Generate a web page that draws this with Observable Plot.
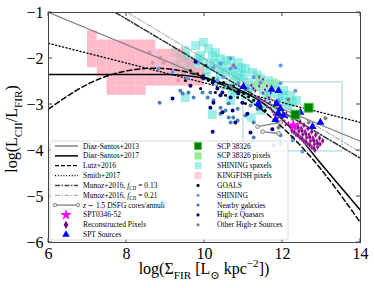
<!DOCTYPE html>
<html><head><meta charset="utf-8">
<script src="https://cdn.jsdelivr.net/npm/d3@7"></script>
<script src="https://cdn.jsdelivr.net/npm/@observablehq/plot@0.6"></script>
<style>
html,body{margin:0;padding:0;background:#fff;}
#chart{width:374px;height:288px;}
</style></head><body><div id="chart"></div>
<script>
// ---------- axes ----------
const xTicks = [6, 8, 10, 12, 14];
const yTicks = [-6, -5, -4, -3, -2, -1];

// ---------- model relations ----------
const diazSantos2013 = [[6, -1.0], [14, -3.8]];
const diazSantos2017 = [[6,-2.35],[9,-2.35],[9.5,-2.37],[10,-2.43],[10.5,-2.54],[11,-2.72],[11.5,-2.97],[12,-3.33],[12.5,-3.78],[13,-4.3],[13.5,-4.8],[14,-5.3]];
const lutz2016 = [[6,-3.10],[7,-2.56],[8,-2.27],[9,-2.22],[10,-2.41],[11,-2.83],[12,-3.50],[13,-4.42],[14,-5.57]];
const smith2017 = [[6,-1.67],[14,-3.39]];
const munoz013 = [[7.72,-1.0],[14,-4.17]];
const munoz021 = [[8.03,-1.0],[14,-4.04]];

// ---------- binned / pixel data ----------
const kingfishPixels = [
 [7.125,-1.5],[7.125,-1.7],[7.125,-1.9],[7.125,-2.1],
 [7.375,-1.7],[7.375,-1.9],[7.375,-2.1],[7.375,-2.3],
 [7.625,-1.7],[7.625,-1.9],[7.625,-2.1],[7.625,-2.3],[7.625,-2.5],[7.625,-2.7],
 [7.875,-1.7],[7.875,-1.9],[7.875,-2.1],[7.875,-2.3],[7.875,-2.5],[7.875,-2.7],
 [8.125,-1.7],[8.125,-1.9],[8.125,-2.1],[8.125,-2.3],[8.125,-2.5],[8.125,-2.7],
 [8.375,-1.7],[8.375,-1.9],[8.375,-2.1],[8.375,-2.3],[8.375,-2.5],[8.375,-2.7],
 [8.625,-1.7],[8.625,-1.9],[8.625,-2.1],[8.625,-2.3],[8.625,-2.5],
 [8.875,-1.9],[8.875,-2.1],[8.875,-2.3],[8.875,-2.5],
 [9.125,-1.9],[9.125,-2.1],[9.125,-2.3],[9.125,-2.5],
 [9.375,-1.9],[9.375,-2.1],[9.375,-2.3],[9.375,-2.5],
 [9.625,-2.1],[9.625,-2.3],[9.625,-2.5],
 [9.875,-2.3],[9.875,-2.5]
];
const shiningSpaxels = [
 [9.26,-1.87],[9.51,-1.83],[9.77,-1.72],[9.97,-1.65],[9.90,-1.93],[10.10,-1.78],[10.28,-1.87],[10.41,-2.00],[10.67,-2.04],[10.87,-2.09],[11.05,-2.22],[11.23,-2.30],[11.44,-2.43],[11.64,-2.48],[11.82,-2.57],[12.03,-2.70],[12.21,-2.80],[12.36,-2.91],
 [10.20,-1.95],[10.55,-2.05],[10.95,-2.20],[11.35,-2.36],[11.75,-2.55],
 [9.38,-2.00],[9.50,-1.95],[9.59,-2.04],[9.77,-2.09],[9.85,-2.00],[9.97,-2.09],[10.15,-2.15],[10.25,-2.10],[10.36,-2.22],[10.45,-2.15],[10.54,-2.30],[10.65,-2.25],[10.74,-2.37],[10.85,-2.30],[10.92,-2.43],[11.00,-2.38],[11.13,-2.52],[11.31,-2.61],[11.51,-2.70],[11.69,-2.76],[11.90,-2.85],[12.08,-2.93],
 [9.65,-2.12],[10.05,-2.25],[10.40,-2.35],[10.80,-2.50],[11.20,-2.65],[11.60,-2.82],[12.00,-2.80],[12.25,-2.95],
 [9.26,-2.15],[9.51,-2.22],[9.77,-2.30],[10.03,-2.39],[10.28,-2.48],[10.54,-2.59],[10.79,-2.70],[11.05,-2.80],[11.31,-2.91],[11.56,-3.00],[11.82,-3.09],
 [9.51,-2.85],[10.20,-3.22],[10.67,-2.91],[10.72,-2.74],[11.10,-2.74],[11.44,-3.13],[12.15,-3.02],[11.20,-3.28]
];
const scpPixels = [[11.35,-2.45],[11.50,-2.50],[11.60,-2.55],[11.45,-2.60],[11.70,-2.62],[11.30,-2.55],[11.80,-2.50]];
const boxRegion = [{x1: 11.0, x2: 13.54, y1: -4.02, y2: -2.52}];

// ---------- galaxy samples ----------
const goals = [[9.64,-2.26],[9.82,-2.33],[9.97,-2.37],[10.10,-2.48],[10.23,-2.43],[10.36,-2.54],[10.49,-2.52],[10.62,-2.63],[10.74,-2.59],[10.87,-2.70],[11.00,-2.76],[11.13,-2.83],[11.26,-2.91],[9.90,-2.65],[10.28,-2.74],[11.05,-2.98],[10.85,-2.85],[10.54,-2.80],[11.38,-3.02],[11.56,-3.13],[10.03,-2.15],[9.51,-2.48]];
const shining = [[8.82,-2.22],[9.18,-2.30],[9.56,-2.43],[9.82,-2.09],[10.23,-2.20],[10.41,-2.11],[10.67,-2.22],[10.49,-2.41],[10.87,-2.54],[10.33,-2.48],[10.67,-2.00],[11.26,-2.41],[11.44,-2.52],[10.79,-2.20],[11.95,-2.54],[12.33,-2.70],[11.90,-2.91],[11.95,-2.15],[11.10,-2.65],[12.51,-4.02],[12.26,-3.78],[11.77,-3.89],[11.95,-3.85]];
const nearby = [[8.85,-2.96],[9.38,-2.70],[9.72,-2.85],[9.95,-2.74],[10.15,-2.74],[10.08,-2.85],[10.23,-2.91],[10.41,-3.07],[10.54,-3.13],[10.62,-2.98],[10.67,-2.59],[10.74,-3.28],[10.67,-3.39],[10.85,-3.35],[10.85,-3.09],[11.18,-3.02],[11.36,-3.09],[10.62,-3.28],[11.26,-3.39],[11.05,-3.24],[10.41,-3.20],[11.26,-3.72],[11.95,-3.67],[9.59,-2.74],[9.44,-2.76]];
const quasars = [[9.18,-2.87],[9.77,-2.07],[9.97,-2.43],[10.21,-2.52],[10.33,-2.65],[10.46,-2.74],[9.64,-2.59],[10.23,-2.96],[10.15,-3.07],[10.46,-3.17],[10.67,-2.85],[10.87,-2.76],[10.97,-2.96],[11.10,-3.20],[11.44,-3.07],[10.72,-3.13],[10.21,-3.59],[10.79,-3.39],[11.18,-3.61],[11.74,-3.54],[10.41,-2.80]];
const otherHighz = [[8.59,-1.87],[8.67,-2.09],[8.87,-1.98],[8.95,-2.09],[9.46,-2.30],[9.33,-2.48],[10.74,-2.15],[12.15,-2.89],[13.10,-3.30],[12.67,-3.39],[12.26,-3.72],[11.90,-3.50]];

// ---------- this work ----------
const reconBlock = [
 [12.45,-3.38],[12.55,-3.45],[12.65,-3.52],[12.75,-3.59],[12.85,-3.66],[12.95,-3.73],[13.03,-3.79],
 [12.38,-3.45],[12.48,-3.52],[12.58,-3.59],[12.68,-3.66],[12.78,-3.73],[12.88,-3.80],[12.96,-3.86],
 [12.32,-3.51],[12.42,-3.58],[12.52,-3.65],[12.62,-3.72],[12.72,-3.79],[12.82,-3.86],[12.90,-3.92],
 [12.25,-3.58],[12.35,-3.65],[12.45,-3.72],[12.55,-3.79],[12.65,-3.86],[12.75,-3.93],[12.83,-3.99],
 [12.40,-3.50],[12.50,-3.57],[12.60,-3.64],[12.70,-3.71],[12.80,-3.78],[12.90,-3.85],
 [12.30,-3.60],[12.40,-3.67],[12.50,-3.74],[12.60,-3.81],[12.70,-3.88],[12.80,-3.95]
];
const reconStream = [
 [11.25,-2.65],[11.35,-2.85],[11.40,-2.60],[11.45,-2.95],[11.50,-2.75],[11.55,-2.68],[11.55,-2.92],[11.60,-3.05],[11.65,-2.85],[11.70,-3.08],[11.70,-2.75],[11.75,-3.15],[11.80,-2.95],[11.85,-3.18],[11.90,-3.25],[11.95,-3.05],[12.00,-3.30],[12.05,-3.36],[12.10,-3.18],[12.15,-3.40],[12.20,-3.45],[12.25,-3.32],[11.40,-2.40],[11.50,-2.45],[11.20,-2.58],[11.30,-2.70],[11.60,-2.60],
 [11.78,-3.22],[11.88,-3.30],[11.98,-3.38],[12.08,-3.44],[12.12,-3.28],[11.68,-2.95]
];
const dsfgTracks = [[[11.36,-3.48],[11.95,-3.39]], [[11.49,-3.59],[11.90,-3.63]]];
const sptSources = [[11.00,-2.61],[11.72,-2.67],[11.90,-2.70],[11.38,-2.98],[11.85,-2.98],[11.95,-3.09],[11.90,-3.20],[12.46,-3.17],[12.03,-3.24],[11.82,-3.33],[12.77,-3.48],[12.97,-3.39]];
const scp38326 = [[12.67,-3.07],[12.33,-3.22]];
const spt0346 = [[12.28,-3.46]];

// ---------- legend ----------
const legendLeft = [
 ["Diaz-Santos+2013"], ["Diaz-Santos+2017"], ["Lutz+2016"], ["Smith+2017"],
 ["Munoz+2016, ", ["f","i"], ["CII","sub"], " = 0.13"],
 ["Munoz+2016, ", ["f","i"], ["CII","sub"], " = 0.21"],
 [["z","i"], " ∼ 1.5 DSFG cores/annuli"],
 ["SPT0346-52"], ["Reconstructed Pixels"], ["SPT Sources"]
];
const legendRight = ["SCP 38326", "SCP 38326 pixels", "SHINING spaxels", "KINGFISH pixels", "GOALS", "SHINING", "Nearby galaxies", "High-z Quasars", "Other High-z Sources"];

const FONT = "'Liberation Serif', 'DejaVu Serif', serif";
const X = d => d[0], Y = d => d[1];
const kfHalfW = 0.125, kfHalfH = 0.1;
const dashDot = "5.5,2,1.5,2";

const chart = Plot.plot({
  width: 374, height: 288,
  marginLeft: 48, marginRight: 14, marginTop: 12, marginBottom: 46,
  x: {domain: [6, 14]},
  y: {domain: [-6, -1]},
  style: {fontFamily: FONT, background: "white", color: "black"},
  marks: [
    Plot.dot(shiningSpaxels, {x: X, y: Y, symbol: "square", r: 5, fill: "turquoise", fillOpacity: 0.5}),
    Plot.dot(otherHighz, {x: X, y: Y, r: 2, fill: "gray"}),
    Plot.rect(kingfishPixels, {x1: d => d[0] - kfHalfW, x2: d => d[0] + kfHalfW, y1: d => d[1] - kfHalfH, y2: d => d[1] + kfHalfH, fill: "#ffa0b4", fillOpacity: 0.72}),
    Plot.dot(scpPixels, {x: X, y: Y, symbol: "square", r: 3.4, fill: "lightgreen", fillOpacity: 0.7}),
    Plot.rect(boxRegion, {x1: "x1", x2: "x2", y1: "y1", y2: "y2", fill: "none", stroke: "lightblue", strokeWidth: 1.2}),
    Plot.line(diazSantos2013, {x: X, y: Y, stroke: "gray", strokeWidth: 1.3, clip: true}),
    Plot.line(diazSantos2017, {x: X, y: Y, stroke: "black", strokeWidth: 1.5, curve: "monotone-x", clip: true}),
    Plot.line(lutz2016, {x: X, y: Y, stroke: "black", strokeWidth: 1.5, strokeDasharray: "5,3", curve: "natural", clip: true}),
    Plot.line(smith2017, {x: X, y: Y, stroke: "black", strokeWidth: 1.3, strokeDasharray: "1.2,2.4", clip: true}),
    Plot.line(munoz013, {x: X, y: Y, stroke: "#333", strokeWidth: 1.5, strokeDasharray: dashDot, clip: true}),
    Plot.line(munoz021, {x: X, y: Y, stroke: "#999", strokeWidth: 1, strokeDasharray: dashDot, clip: true}),
    Plot.dot(goals, {x: X, y: Y, r: 1.5, fill: "black"}),
    Plot.dot(shining, {x: X, y: Y, r: 2, fill: "cornflowerblue"}),
    Plot.dot(nearby, {x: X, y: Y, r: 2, fill: "steelblue"}),
    Plot.dot(quasars, {x: X, y: Y, r: 2, fill: "navy"}),
    Plot.dot(reconStream, {x: X, y: Y, symbol: d3.symbolDiamond, r: 1.2, fill: "purple", stroke: "#f0c0f0", strokeWidth: 0.25}),
    Plot.dot(reconBlock, {x: X, y: Y, symbol: d3.symbolDiamond, r: 1.9, fill: "purple", stroke: "#f0c0f0", strokeWidth: 0.35}),
    ...dsfgTracks.map(t => Plot.line(t, {x: X, y: Y, stroke: "gray", strokeWidth: 1.3})),
    ...dsfgTracks.map(t => Plot.dot(t, {x: X, y: Y, r: 2, fill: "#ddd", stroke: "gray", strokeWidth: 0.8})),
    Plot.dot(sptSources, {x: X, y: Y, symbol: "triangle", r: 3, fill: "blue"}),
    Plot.dot(scp38326, {x: X, y: Y, symbol: "square", r: 5, fill: "green", stroke: "limegreen", strokeWidth: 1}),
    Plot.dot(spt0346, {x: X, y: Y, symbol: "star", r: 4, fill: "magenta"}),
    Plot.frame({stroke: "#444", strokeWidth: 1}),
    Plot.axisX(xTicks, {tickSize: 0, tickPadding: 5, fontSize: 16, label: null}),
    Plot.axisY(yTicks, {tickSize: 0, tickPadding: 5, fontSize: 16, label: null})
  ]
});
document.getElementById("chart").appendChild(chart);

const svg = d3.select(chart);
const sx = chart.scale("x"), sy = chart.scale("y");
const xL = sx.apply(6), xR = sx.apply(14), yB = sy.apply(-6), yT = sy.apply(-1);

// inward ticks on all four sides
const tg = svg.append("g").attr("stroke", "#444").attr("stroke-width", 1);
for (const t of xTicks) {
  const px = sx.apply(t);
  tg.append("line").attr("x1", px).attr("x2", px).attr("y1", yB).attr("y2", yB - 4);
  tg.append("line").attr("x1", px).attr("x2", px).attr("y1", yT).attr("y2", yT + 4);
}
for (const t of yTicks) {
  const py = sy.apply(t);
  tg.append("line").attr("x1", xL).attr("x2", xL + 4).attr("y1", py).attr("y2", py);
  tg.append("line").attr("x1", xR).attr("x2", xR - 4).attr("y1", py).attr("y2", py);
}

function rich(parent, segs, fontSize) {
  const t = parent.append("text").attr("font-size", fontSize).style("white-space", "pre");
  let cur = 0;
  for (const s of segs) {
    const [txt, kind] = typeof s === "string" ? [s, ""] : s;
    let target = 0, fs = fontSize;
    if (kind === "sub") { target = 0.3 * fontSize; fs = 0.7 * fontSize; }
    if (kind === "sup") { target = -0.42 * fontSize; fs = 0.7 * fontSize; }
    const sp = t.append("tspan").attr("dy", target - cur).attr("font-size", fs).text(txt);
    if (kind === "i") sp.attr("font-style", "italic");
    cur = target;
  }
  return t;
}

// axis titles
const lab = svg.append("g").attr("font-family", FONT).attr("fill", "black");
rich(lab, ["log(Σ", ["FIR", "sub"], " [L", ["⊙", "sub"], " kpc", ["−2", "sup"], "])"], 16)
  .attr("x", (xL + xR) / 2).attr("y", 274).attr("text-anchor", "middle");
rich(lab.append("g").attr("transform", `translate(17,${(yT + yB) / 2 + 2}) rotate(-90)`),
  ["log(L", ["CII", "sub"], "/L", ["FIR", "sub"], ")"], 16).attr("text-anchor", "middle");

// legend
const leg = svg.append("g").attr("font-family", FONT).attr("text-anchor", "start").attr("fill", "black");
leg.append("rect").attr("x", 50).attr("y", 141).attr("width", 238).attr("height", 99).attr("rx", 2.5)
  .attr("fill", "white").attr("fill-opacity", 0.8).attr("stroke", "#d0d0d0").attr("stroke-width", 0.8);
const rowY = i => 146 + 9.85 * i;
const sym = (type, r) => d3.symbol().type(type).size(Math.PI * r * r)();
const leftStyles = [
  {stroke: "gray", w: 1.5}, {stroke: "black", w: 1.5}, {stroke: "black", w: 1.3, dash: "4,2"},
  {stroke: "black", w: 1.3, dash: "1,1.8"}, {stroke: "#444", w: 1.5, dash: "5,1.5,1.5,1.5"},
  {stroke: "#999", w: 1, dash: "5,1.5,1.5,1.5"}
];
legendLeft.forEach((segs, i) => {
  const y = rowY(i);
  if (i < 6) {
    const s = leftStyles[i];
    leg.append("line").attr("x1", 55).attr("x2", 78).attr("y1", y).attr("y2", y)
      .attr("stroke", s.stroke).attr("stroke-width", s.w).attr("stroke-dasharray", s.dash || null);
  } else if (i === 6) {
    leg.append("line").attr("x1", 55).attr("x2", 78).attr("y1", y).attr("y2", y).attr("stroke", "gray").attr("stroke-width", 1.3);
    for (const cx of [55, 78]) leg.append("circle").attr("cx", cx).attr("cy", y).attr("r", 1.8).attr("fill", "#ddd").attr("stroke", "gray").attr("stroke-width", 0.8);
  } else if (i === 7) {
    leg.append("path").attr("d", sym(d3.symbolStar, 3.6)).attr("transform", `translate(66,${y})`).attr("fill", "magenta");
  } else if (i === 8) {
    leg.append("path").attr("d", sym(d3.symbolDiamond, 2.5)).attr("transform", `translate(66,${y})`).attr("fill", "purple");
  } else {
    leg.append("path").attr("d", sym(d3.symbolTriangle, 2.8)).attr("transform", `translate(66,${y})`).attr("fill", "blue");
  }
  rich(leg, segs, 7.5).attr("x", 83).attr("y", y + 2.5).attr("text-anchor", "start");
});
const rightSwatches = [
  {kind: "sq", fill: "green", stroke: "limegreen"}, {kind: "sq", fill: "#90ee90"}, {kind: "sq", fill: "#a6efe7"},
  {kind: "sq", fill: "#ffd0d8"}, {kind: "dot", fill: "black"}, {kind: "dot", fill: "cornflowerblue"},
  {kind: "dot", fill: "steelblue"}, {kind: "dot", fill: "navy"}, {kind: "dot", fill: "gray"}
];
legendRight.forEach((label, i) => {
  const y = rowY(i), s = rightSwatches[i];
  if (s.kind === "sq") {
    leg.append("rect").attr("x", 194.5).attr("y", y - 3.5).attr("width", 7).attr("height", 7)
      .attr("fill", s.fill).attr("stroke", s.stroke || "none").attr("stroke-width", 0.8);
  } else {
    leg.append("circle").attr("cx", 198).attr("cy", y).attr("r", 1.6).attr("fill", s.fill);
  }
  rich(leg, [label], 7.5).attr("x", 217).attr("y", y + 2.5).attr("text-anchor", "start");
});
</script></body></html>
